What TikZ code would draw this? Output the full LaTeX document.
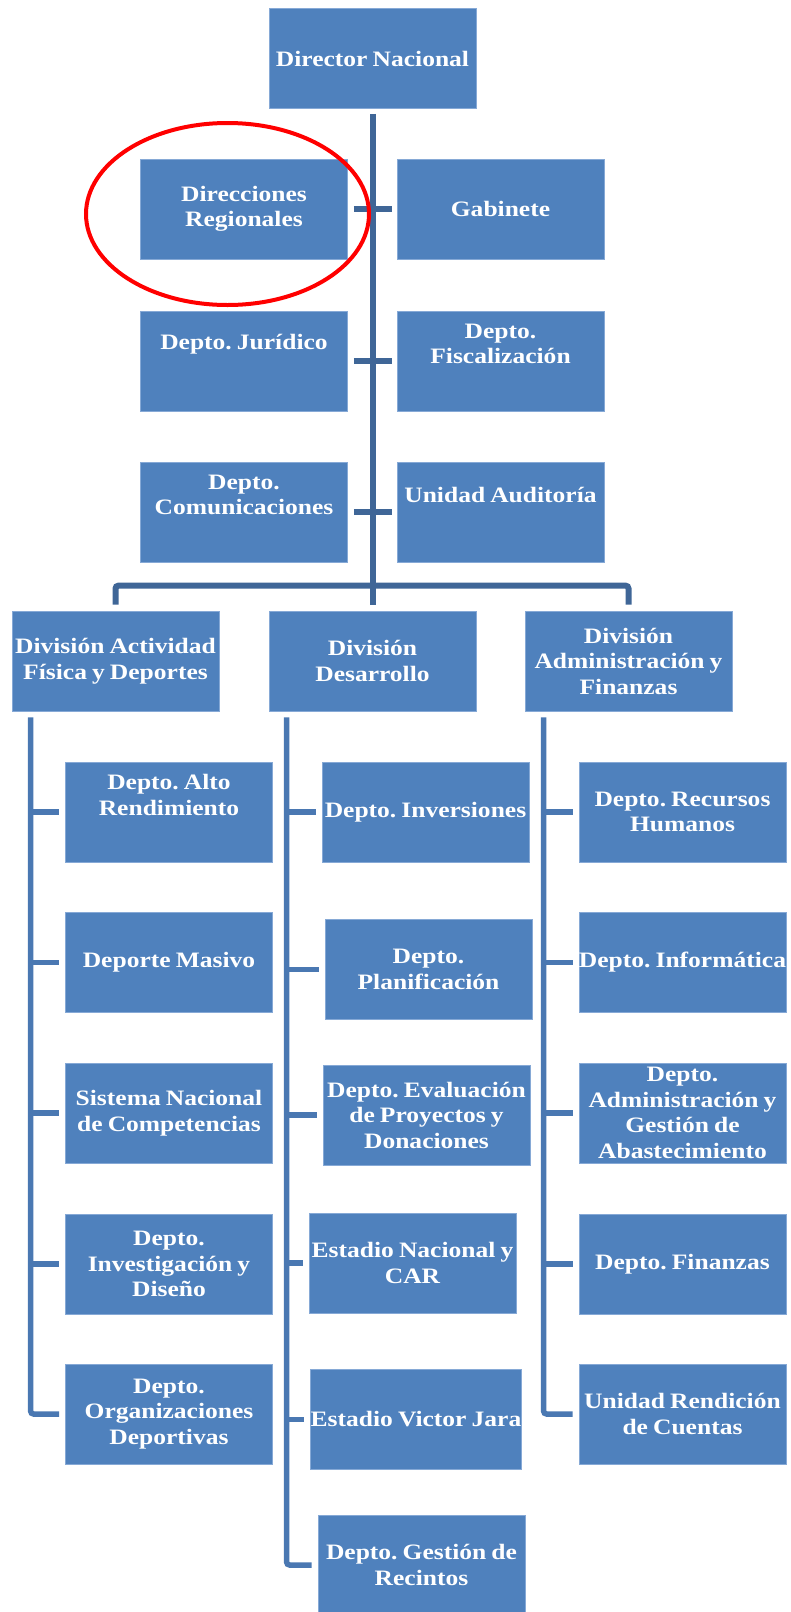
\documentclass[tikz,border=0pt]{standalone}
\usepackage{xcolor}
\usepackage{fontspec}
\setmainfont{Liberation Serif}[FakeStretch=1.16, WordSpace=0.8]
\frenchspacing
\usepackage{tikz}
\usetikzlibrary{backgrounds}
\usetikzlibrary{calc,fit}
\usetikzlibrary{shapes}
\definecolor{unitblue}{HTML}{4F81BD}
\definecolor{unitedge}{HTML}{86A9D6}
\definecolor{trunkblue}{HTML}{3F6697}
\definecolor{branchblue}{HTML}{4A78B2}
\begin{document}
\begin{tikzpicture}[>=latex, x=1pt, y=-1pt,
 unit/.style={draw=unitedge, line width=0.8pt, fill=unitblue, minimum width=207pt,
  minimum height=100pt, inner sep=0pt, text=white, align=center,
  font=\bfseries\fontsize{22}{25.5}\selectfont},
 txt/.style={text=white, align=center, inner sep=0pt,
  font=\bfseries\fontsize{22}{25.5}\selectfont},
 trunk/.style={draw=trunkblue, line width=6pt},
 branch/.style={draw=branchblue, line width=5.5pt}]
 \useasboundingbox (0,0) rectangle (790,1612);
 %\draw [help lines] (0,0) grid [step=50] (790,1612);
 \node [unit] (DN) at (372.5,58.5) {Director Nacional};
 \node [unit] (DR) at (244,209) {Direcciones\\Regionales};
 \node [unit] (GB) at (500.5,209) {Gabinete};
 \node [unit, label={[txt,name=DJt,yshift=17]center:Depto. Jurídico}] (DJ) at (244,361) {};
 \node [unit, label={[txt,name=DFt,yshift=17]center:Depto.\\Fiscalización}] (DF) at (500.5,361) {};
 \node [unit, label={[txt,name=DCt,yshift=17]center:Depto.\\Comunicaciones}] (DC) at (244,512) {};
 \node [unit, label={[txt,name=UAt,yshift=17]center:Unidad Auditoría}] (UA) at (500.5,512) {};
 %
 \node [unit] (V1) at (115.5,661) {División Actividad\\Física y Deportes};
 \node [unit] (V2) at (372.5,661) {División\\Desarrollo};
 \node [unit] (V3) at (628.5,661) {División\\Administración y\\Finanzas};
 %
 \node [unit, label={[txt,name=L1t,yshift=17]center:Depto. Alto\\Rendimiento}] (L1) at (169,812) {};
 \node [unit] (L2) at (169,962.5) {Deporte Masivo};
 \node [unit] (L3) at (169,1113) {Sistema Nacional\\de Competencias};
 \node [unit] (L4) at (169,1264) {Depto.\\Investigación y\\Diseño};
 \node [unit] (L5) at (169,1414) {Depto.\\Organizaciones\\Deportivas};
 %
 \node [unit] (M1) at (425.5,812) {Depto. Inversiones};
 \node [unit] (M2) at (428.5,969.5) {Depto.\\Planificación};
 \node [unit] (M3) at (426.5,1115) {Depto. Evaluación\\de Proyectos y\\Donaciones};
 \node [unit] (M4) at (412.5,1263) {Estadio Nacional y\\CAR};
 \node [unit] (M5) at (416,1419.5) {Estadio Victor Jara};
 \node [unit] (M6) at (421.5,1565) {Depto. Gestión de\\Recintos};
 %
 \node [unit] (R1) at (682.5,812) {Depto. Recursos\\Humanos};
 \node [unit] (R2) at (682.5,962.5) {Depto. Informática};
 \node [unit] (R3) at (682.5,1113) {Depto.\\Administración y\\Gestión de\\Abastecimiento};
 \node [unit] (R4) at (682.5,1264) {Depto. Finanzas};
 \node [unit] (R5) at (682.5,1414) {Unidad Rendición\\de Cuentas};
 %
 \draw [trunk] ([yshift=-5]DN.south) -- ([yshift=6]V2.north);
 \draw [trunk] ([xshift=6]DR.east) -- ([xshift=-5]GB.west);
 \draw [trunk] ([xshift=6]DJ.east) -- ([xshift=-5]DF.west);
 \draw [trunk] ([xshift=6]DC.east) -- ([xshift=-5]UA.west);
 \draw [trunk, rounded corners=3] ([yshift=6]V1.north) |- ([yshift=25]V2.north) -| ([yshift=6]V3.north);
 %
 \coordinate (cl) at ($(V1.south west)+(19,6)$);
 \coordinate (cm) at ($(V2.south west)+(18,6)$);
 \coordinate (cr) at ($(V3.south west)+(19,6)$);
 \draw [branch, rounded corners=3] (cl) |- ([xshift=-6]L5.west);
 \draw [branch] (cl |- L1.west) -- ([xshift=-6]L1.west);
 \draw [branch] (cl |- L2.west) -- ([xshift=-6]L2.west);
 \draw [branch] (cl |- L3.west) -- ([xshift=-6]L3.west);
 \draw [branch] (cl |- L4.west) -- ([xshift=-6]L4.west);
 %
 \draw [branch, rounded corners=3] (cm) |- ([xshift=-6]M6.west);
 \draw [branch] (cm |- M1.west) -- ([xshift=-6]M1.west);
 \draw [branch] (cm |- M2.west) -- ([xshift=-6]M2.west);
 \draw [branch] (cm |- M3.west) -- ([xshift=-6]M3.west);
 \draw [branch] (cm |- M4.west) -- ([xshift=-6]M4.west);
 \draw [branch] (cm |- M5.west) -- ([xshift=-6]M5.west);
 %
 \draw [branch, rounded corners=3] (cr) |- ([xshift=-6]R5.west);
 \draw [branch] (cr |- R1.west) -- ([xshift=-6]R1.west);
 \draw [branch] (cr |- R2.west) -- ([xshift=-6]R2.west);
 \draw [branch] (cr |- R3.west) -- ([xshift=-6]R3.west);
 \draw [branch] (cr |- R4.west) -- ([xshift=-6]R4.west);
 %
 \draw [red, line width=4pt] (227.5,214) ellipse [x radius=141.5, y radius=91];
\end{tikzpicture}
\end{document}
